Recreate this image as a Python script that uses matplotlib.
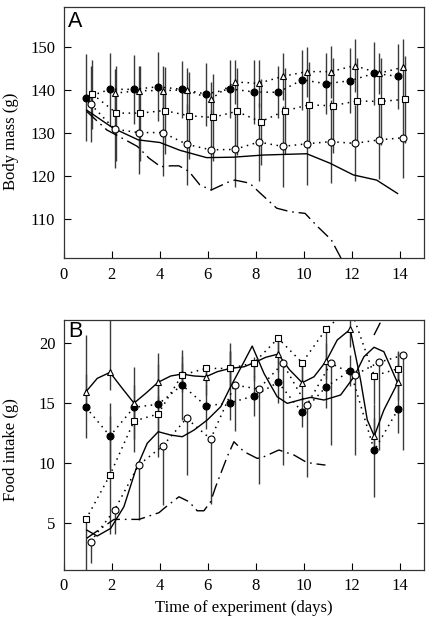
import numpy as np
import matplotlib
matplotlib.use('Agg')
import matplotlib.pyplot as plt

plt.rcParams['font.family'] = 'Liberation Serif'

days = np.arange(1, 15)
nan = np.nan

# panel A: body mass (g)
mass_filled = [138.2, 140.1, 140.1, 140.7, 140.1, 139.0, 140.2, 139.5, 139.4, 142.3, 141.4, 142.1, 143.8, 143.1]
mass_filled_err = [10, 8.5, 8, 8, 6.6, 7.3, 6.7, 7.5, 6, 7, 7, 7.5, 7.3, 7.5]
mass_tri = [nan, 139.2, 139.8, 139.8, 140.0, 137.8, 141.8, 141.5, 143.1, 144.2, 144.2, 145.6, 143.8, 145.2]
mass_tri_err = [nan, 5.6, 5.6, 5.6, 5.1, 4.0, 5.0, 5.4, 5.4, 5.8, 6.0, 6.2, 4.7, 6.6]
mass_sq = [139.0, 134.6, 134.6, 135.2, 134.0, 133.6, 135.0, 132.6, 135.1, 136.5, 136.3, 137.4, 137.3, 137.8]
mass_sq_err = [8, 11, 11, 10, 10, 10, 10, 10, 10, 10, 11, 10, 10, 10]
mass_open = [136.7, 130.9, 130.1, 130.1, 127.4, 126.1, 126.2, 127.9, 126.9, 127.5, 128.0, 127.6, 128.4, 128.9]
mass_open_err = [8.7, 9.0, 9.6, 10.0, 9.4, 9.3, 8.6, 9.0, 9.4, 9.5, 9.6, 8.8, 9.0, 9.2]

mass_solid_x = [0.96, 2.07, 3.11, 4.01, 4.84, 5.95, 7.06, 8.31, 10.12, 11.09, 12.06, 13.03, 13.9]
mass_solid_y = [135.3, 131.1, 128.4, 127.8, 126.0, 124.3, 124.4, 124.9, 125.2, 123.0, 120.3, 119.1, 116.0]
mass_dash_x = [0.96, 1.8, 2.17, 3.07, 3.55, 4.04, 4.45, 4.80, 5.22, 5.67, 6.14, 6.92, 7.13,
               7.74, 8.18, 8.87, 9.43, 10.05, 10.58, 11.14, 11.55, 11.9]
mass_dash_y = [135.0, 130.7, 129.6, 126.9, 124.2, 122.2, 122.4, 122.4, 121.1, 118.0, 116.8, 118.8, 119.1,
               118.4, 116.1, 112.6, 111.8, 111.4, 108.3, 105.3, 101.0, 97.5]

# panel B: food intake (g)
food_filled = [14.65, 12.25, 14.65, 14.9, 16.51, 14.76, 15.03, 15.6, 16.74, 14.23, 16.37, 17.71, 11.05, 14.51]
food_filled_lo = [2.6, 2.75, 3.75, 4.4, 2.9, 1.9, 1.4, 1.7, 1.7, 1.2, 1.8, 1.3, 3.9, 2.0]
food_filled_hi = [2.8, 2.75, 3.35, 4.3, 2.9, 1.8, 5.0, 1.7, 1.8, 1.2, 2.2, 1.3, 3.9, 4.8]
food_tri = [15.95, 17.57, 15.0, 16.74, 17.43, 17.21, 17.9, 18.38, 19.1, 16.71, 18.52, 21.17, 12.25, 16.79]
food_tri_lo = [1.5] * 14
food_tri_hi = [4.75, 5.0, 1.5, 1.5, 1.5, 0.7, 1.5, 0.5, 1.0, 1.5, 1.5, 1.0, 1.5, 1.5]
food_sq = [5.28, 8.99, 13.5, 14.09, 17.35, 17.9, 17.9, 18.38, 20.42, 18.38, 21.2, 23.0, 17.29, 17.88]
food_sq_lo = [4.3, 4.9, 1.5, 1.5, 1.0, 1.2, 1.5, 1.2, 2.0, 1.5, 2.7, 1.0, 2.4, 1.5]
food_sq_hi = [0, 4.9, 1.5, 1.5, 1.0, 0.0, 1.5, 0.0, 0.0, 0.0, 0.0, 1.0, 0.0, 1.5]
food_open = [3.41, 6.06, 9.82, 11.41, 13.73, 12.0, 16.51, 16.18, 18.33, 14.82, 18.33, 17.35, 18.41, 19.0]
food_open_lo = [1.8, 2.0, 4.6, 4.9, 4.7, 5.4, 3.8, 7.9, 8.5, 6.0, 6.8, 6.7, 7.3, 7.9]

tri_mid_x = [1.40, 2.44, 3.42, 4.46, 5.43, 6.40, 7.51, 8.41, 9.40, 10.42, 11.39, 12.36, 12.64, 13.33]
tri_mid_y = [17.07, 16.24, 15.82, 17.27, 17.27, 17.63, 18.04, 18.83, 17.8, 17.2, 20.28, 16.93, 13.59, 14.42]

food_solid_x = [0.96, 1.40, 1.96, 2.51, 3.0, 3.48, 3.94, 4.46, 4.94, 5.43, 5.98, 6.54, 6.95, 7.51, 7.85,
                8.34, 8.89, 9.31, 9.93, 10.28, 10.84, 11.53, 12.09, 12.5, 12.92, 13.33, 13.89]
food_solid_y = [4.39, 3.89, 4.53, 6.34, 9.41, 11.64, 12.61, 12.33, 12.19, 12.75, 13.59, 14.70, 16.37, 18.46, 19.77,
                17.49, 15.53, 14.98, 15.32, 15.48, 15.26, 15.68, 17.21, 18.88, 19.67, 19.3, 16.74]
food_dash_x = [0.96, 2.1, 2.58, 3.14, 3.97, 4.18, 4.8, 5.22, 5.56, 5.84, 6.12, 6.33, 6.81, 7.09, 7.51,
               8.06, 8.34, 8.96, 9.59, 10.07, 10.35, 10.9, nan, 12.92, 13.2, 13.4]
food_dash_y = [3.7, 5.28, 5.28, 5.28, 5.84, 6.2, 7.17, 6.76, 6.0, 6.0, 6.76, 8.01, 10.52, 11.77, 10.94,
               10.38, 10.52, 11.08, 10.66, 10.1, 9.96, 9.82, nan, 20.69, 21.8, 22.6]

dot = (0, (1, 3))
dashdot = (0, (10, 3.5, 1.2, 3.5))
bar_kw = dict(fmt='none', ecolor='#3a3a3a', elinewidth=1.0, capsize=0, zorder=1)
mk = 5.0


def style_axes(ax):
    ax.set_xlim(0, 15)
    ax.set_xticks(range(0, 15, 2))
    ax.tick_params(direction='in', length=5, width=0.8, right=True, top=False,
                   labelsize=12, pad=6)
    for s in ax.spines.values():
        s.set_linewidth(0.9)
        s.set_color('#333333')


fig = plt.figure(figsize=(4.28, 6.18), dpi=100)
axA = fig.add_axes([0.1486, 0.582, 0.842, 0.407])
axB = fig.add_axes([0.1486, 0.0777, 0.842, 0.4045])

# ---- A ----
xf, xt, xs, xo = days - 0.07, days + 0.12, days + 0.2, days + 0.12
axA.errorbar(xf, mass_filled, yerr=mass_filled_err, **bar_kw)
axA.errorbar(xt, mass_tri, yerr=mass_tri_err, **bar_kw)
axA.errorbar(xs, mass_sq, yerr=mass_sq_err, **bar_kw)
axA.errorbar(xo, mass_open, yerr=mass_open_err, **bar_kw)
axA.plot(mass_solid_x, mass_solid_y, color='k', lw=1.0, zorder=2)
axA.plot(mass_dash_x, mass_dash_y, color='k', lw=1.0, linestyle=dashdot, zorder=2)
for x, y, m, fc in [(xf, mass_filled, 'o', 'k'), (xt, mass_tri, '^', 'w'),
                    (xs, mass_sq, 's', 'w'), (xo, mass_open, 'o', 'w')]:
    axA.plot(x, y, color='k', lw=1.1, linestyle=dot, zorder=2)
    axA.plot(x, y, linestyle='none', marker=m, ms=mk if m != 's' else mk - 0.5,
             mfc=fc, mec='k', mew=0.8, zorder=3)
axA.set_ylim(101, 159.2)
axA.set_yticks([110, 120, 130, 140, 150])
style_axes(axA)
axA.set_ylabel('Body mass (g)', fontsize=12)
axA.yaxis.set_label_coords(-0.125, 0.466)
axA.text(0.012, 0.985, 'A', transform=axA.transAxes, fontsize=15.5,
         family='Liberation Sans', va='top', ha='left')

# ---- B ----
xf, xt, xs, xo = days - 0.07, days - 0.07, days - 0.07, days + 0.12
axB.errorbar(xf, food_filled, yerr=[food_filled_lo, food_filled_hi], **bar_kw)
axB.errorbar(xt, food_tri, yerr=[food_tri_lo, food_tri_hi], **bar_kw)
axB.errorbar(xs, food_sq, yerr=[food_sq_lo, food_sq_hi], **bar_kw)
axB.errorbar(xo, food_open, yerr=[food_open_lo, [0] * 14], **bar_kw)

tri_x = np.concatenate([xt, tri_mid_x])
tri_y = np.concatenate([food_tri, tri_mid_y])
order = np.argsort(tri_x)
axB.plot(tri_x[order], tri_y[order], color='k', lw=1.0, zorder=2)
axB.plot(food_solid_x, food_solid_y, color='k', lw=1.0, zorder=2)
axB.plot(food_dash_x, food_dash_y, color='k', lw=1.0, linestyle=dashdot, zorder=2)
for x, y in [(xf, food_filled), (xs, food_sq), (xo, food_open)]:
    axB.plot(x, y, color='k', lw=1.1, linestyle=dot, zorder=2)
for x, y, m, fc in [(xf, food_filled, 'o', 'k'), (xt, food_tri, '^', 'w'),
                    (xs, food_sq, 's', 'w'), (xo, food_open, 'o', 'w')]:
    axB.plot(x, y, linestyle='none', marker=m, ms=mk if m != 's' else mk - 0.5,
             mfc=fc, mec='k', mew=0.8, zorder=3)
axB.set_ylim(1.05, 21.95)
axB.set_yticks([5, 10, 15, 20])
style_axes(axB)
axB.set_ylabel('Food intake (g)', fontsize=12)
axB.yaxis.set_label_coords(-0.125, 0.48)
axB.set_xlabel('Time of experiment (days)', fontsize=12, labelpad=4)
axB.text(0.012, 0.998, 'B', transform=axB.transAxes, fontsize=15.5,
         family='Liberation Sans', va='top', ha='left')

fig.savefig('out.png', dpi=100)
